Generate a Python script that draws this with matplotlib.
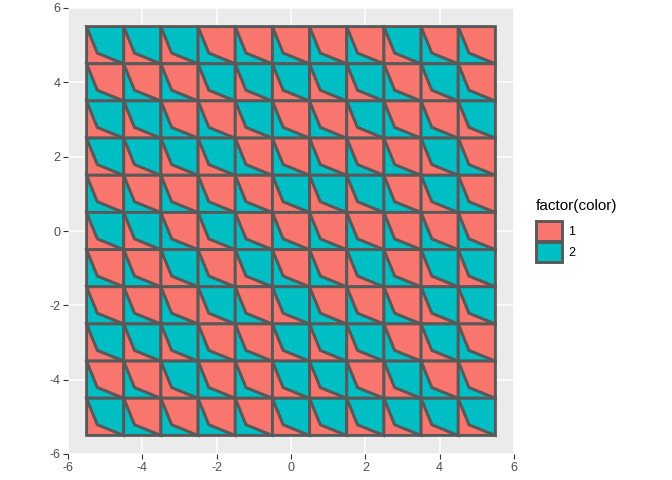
import matplotlib
matplotlib.use("Agg")
import matplotlib.pyplot as plt
from matplotlib.patches import Polygon, Patch
import numpy as np

plt.rcParams['font.family'] = ['Liberation Sans', 'DejaVu Sans']
plt.rcParams['axes.unicode_minus'] = False

# cell centres along each axis
xs = [-5, -4, -3, -2, -1, 0, 1, 2, 3, 4, 5]
ys = [5, 4, 3, 2, 1, 0, -1, -2, -3, -4, -5]

# factor(color) of the upper-right piece of each cell, one row per y (top to bottom)
# the lower-left piece takes the other level
upper = [
    [2, 2, 2, 1, 1, 1, 1, 1, 2, 1, 1],
    [1, 1, 1, 2, 2, 2, 2, 2, 1, 2, 1],
    [2, 2, 1, 1, 2, 1, 1, 2, 1, 1, 2],
    [2, 2, 2, 2, 1, 1, 1, 1, 1, 2, 1],
    [1, 1, 1, 1, 1, 2, 2, 2, 1, 2, 1],
    [2, 2, 1, 2, 1, 1, 1, 1, 1, 1, 1],
    [1, 1, 2, 1, 2, 1, 1, 2, 1, 2, 2],
    [1, 1, 1, 2, 1, 2, 1, 1, 1, 2, 2],
    [2, 2, 2, 1, 1, 2, 2, 2, 1, 2, 1],
    [1, 1, 2, 1, 1, 2, 2, 1, 2, 1, 1],
    [2, 1, 1, 1, 1, 2, 2, 2, 2, 2, 2],
]

levels = ['1', '2']
fills = {1: '#F8766D', 2: '#00BFC4'}
edge = '#595959'
kink = 0.29  # fraction of the cell where the split line bends

fig = plt.figure(figsize=(6.72, 4.8), dpi=100)
ax = fig.add_axes([68 / 672, 1 - 454 / 480, 446 / 672, 446 / 480])
ax.set_facecolor('#EBEBEB')

for i, cy in enumerate(ys):
    for j, cx in enumerate(xs):
        x0, x1 = cx - 0.5, cx + 0.5
        y0, y1 = cy - 0.5, cy + 0.5
        kx, ky = x0 + kink, y0 + kink
        up = upper[i][j]
        low = 3 - up
        lower_pts = [(x0, y0), (x0, y1), (kx, ky), (x1, y0)]
        upper_pts = [(x0, y1), (x1, y1), (x1, y0), (kx, ky)]
        ax.add_patch(Polygon(lower_pts, closed=True, facecolor=fills[low],
                             edgecolor=edge, linewidth=2.1, joinstyle='miter', zorder=2))
        ax.add_patch(Polygon(upper_pts, closed=True, facecolor=fills[up],
                             edgecolor=edge, linewidth=2.1, joinstyle='miter', zorder=2))

ax.set_xlim(-6, 6)
ax.set_ylim(-6, 6)
ticks = np.arange(-6, 7, 2)
ax.set_xticks(ticks)
ax.set_yticks(ticks)
ax.grid(True, color='white', linewidth=1.1, zorder=0)
ax.set_axisbelow(True)
for s in ax.spines.values():
    s.set_visible(False)
ax.tick_params(colors='#333333', labelcolor='#4D4D4D', labelsize=9, length=3.5, width=0.8, pad=2)

handles = [Patch(facecolor=fills[k], edgecolor=edge, linewidth=2.1, label=levels[k - 1]) for k in (1, 2)]
leg = fig.legend(handles=handles, title='factor(color)', loc='upper left',
                 bbox_to_anchor=(531 / 672, 1 - 194 / 480), frameon=False,
                 fontsize=9, title_fontsize=11, handlelength=2.05, handleheight=2.05,
                 handletextpad=0.55, labelspacing=0.08, borderaxespad=0)
leg._legend_box.align = 'left'
leg._legend_box.sep = 6

fig.savefig('out.png', dpi=100)
